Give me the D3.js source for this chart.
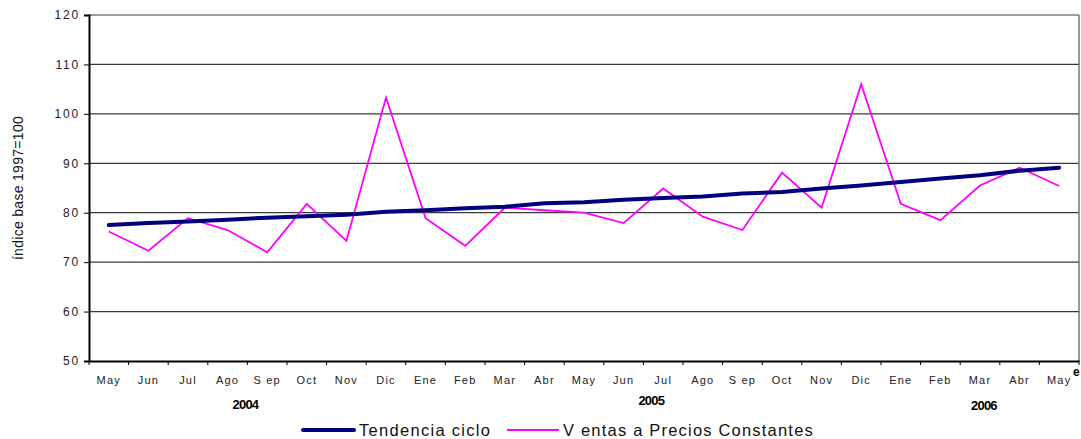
<!DOCTYPE html>
<html><head><meta charset="utf-8">
<script src="https://cdn.jsdelivr.net/npm/d3@7"></script>
<style>body{margin:0;background:#fff}svg{display:block;font-family:"Liberation Sans",Arial,sans-serif}</style>
</head><body><svg id="c" width="1081" height="439"></svg>
<script>
const months = ["May","Jun","Jul","Ago","Sep","Oct","Nov","Dic","Ene","Feb","Mar","Abr","May","Jun","Jul","Ago","Sep","Oct","Nov","Dic","Ene","Feb","Mar","Abr","May"];
const monthLabels = ["May","Jun","Jul","Ago","S ep","Oct","Nov","Dic","Ene","Feb","Mar","Abr","May","Jun","Jul","Ago","S ep","Oct","Nov","Dic","Ene","Feb","Mar","Abr","May"];
const tendencia = [77.5,77.9,78.2,78.6,79.0,79.3,79.6,80.2,80.5,80.9,81.2,81.9,82.1,82.6,83.0,83.3,83.9,84.2,84.9,85.5,86.2,86.9,87.6,88.5,89.1];
const ventas = [76.2,72.3,78.9,76.5,72.0,81.8,74.3,103.3,78.9,73.3,81.0,80.5,80.0,77.9,84.9,79.2,76.5,88.1,81.0,106.0,81.8,78.5,85.5,89.1,85.4];
const yTicks = [50,60,70,80,90,100,110,120];
const years = ["2004","2005","2006"];
const yearAnchor = [3.45, 13.7, 22.1]; // category index position for year labels
const seriesNames = ["Tendencia ciclo","V entas a Precios Constantes"];

const svg = d3.select("#c");
const L = 89, R = 1079, T = 15, B = 361;
const idx = d3.range(months.length);
const x = d3.scaleBand().domain(idx).range([L, R]);
const xc = i => x(i) + x.bandwidth()/2;
const y = d3.scaleLinear().domain([50,120]).range([B, T]);

// gridlines
svg.append("g").selectAll("line").data(yTicks.filter(d=>d>50)).join("line")
  .attr("x1", L).attr("x2", R).attr("y1", d=>y(d)).attr("y2", d=>y(d))
  .attr("stroke", "#3a3a3a").attr("stroke-width", 1.2);
// right border
svg.append("line").attr("x1", R).attr("x2", R).attr("y1", T).attr("y2", B).attr("stroke","#555").attr("stroke-width",1.2);

// y axis
const ya = svg.append("g").attr("transform", `translate(${L},0)`)
  .call(d3.axisLeft(y).tickValues(yTicks).tickSize(5).tickPadding(4).tickFormat(d3.format("d")));
ya.select(".domain").attr("stroke","#000").attr("stroke-width",2);
ya.selectAll(".tick line").attr("stroke","#000");
ya.selectAll("text").attr("font-size","12px").attr("letter-spacing","1.8px").attr("fill","#222").attr("font-family","Liberation Sans, Arial");

// x axis
const xa = svg.append("g").attr("transform", `translate(0,${B})`)
  .call(d3.axisBottom(x).tickSize(0).tickFormat(""));
xa.select(".domain").attr("stroke","#000").attr("stroke-width",2);
const bounds = d3.range(months.length+1).map(i => L + i*x.step());
svg.append("g").selectAll("line").data(bounds).join("line")
  .attr("x1", d=>d).attr("x2", d=>d).attr("y1", B).attr("y2", B+4).attr("stroke","#000");
svg.append("g").selectAll("text").data(idx).join("text")
  .attr("x", i=>xc(i)).attr("y", 384).attr("text-anchor","middle")
  .attr("font-size","11px").attr("letter-spacing","1.2px").attr("fill","#222")
  .text(i=>monthLabels[i]);

// years
const yearY = [409, 405, 410];
svg.append("g").selectAll("text").data(years).join("text")
  .attr("x", (d,i)=> L + (yearAnchor[i]+0.5)*x.step()).attr("y", (d,i)=>yearY[i])
  .attr("text-anchor","middle").attr("font-size","13px").attr("font-weight","bold")
  .attr("letter-spacing","-0.8px").text(d=>d);

// "e"
svg.append("text").attr("x", 1073).attr("y", 376).attr("font-size","12px").attr("font-weight","bold").text("e");

// y title
svg.append("text").attr("transform","translate(23,188) rotate(-90)").attr("text-anchor","middle")
  .attr("font-size","14px").attr("letter-spacing","0.3px").attr("fill","#111").text("índice base 1997=100");

// lines
const line = d3.line().x((d,i)=>xc(i)).y(d=>y(d));
svg.append("path").datum(ventas).attr("d", line).attr("fill","none").attr("stroke","#ff00ff").attr("stroke-width",1.8);
svg.append("path").datum(tendencia).attr("d", line).attr("fill","none").attr("stroke","#000080").attr("stroke-width",4).attr("stroke-linecap","round");

// legend
const lg = svg.append("g");
lg.append("line").attr("x1",303).attr("x2",354).attr("y1",430).attr("y2",430).attr("stroke","#000080").attr("stroke-width",4).attr("stroke-linecap","round");
lg.append("text").attr("x",359).attr("y",436).attr("font-size","16.5px").attr("letter-spacing","1.3px").attr("fill","#111").text(seriesNames[0]);
lg.append("line").attr("x1",507).attr("x2",559).attr("y1",430).attr("y2",430).attr("stroke","#ff00ff").attr("stroke-width",1.8);
lg.append("text").attr("x",563).attr("y",436).attr("font-size","16.5px").attr("letter-spacing","1.2px").attr("fill","#111").text(seriesNames[1]);
</script></body></html>
